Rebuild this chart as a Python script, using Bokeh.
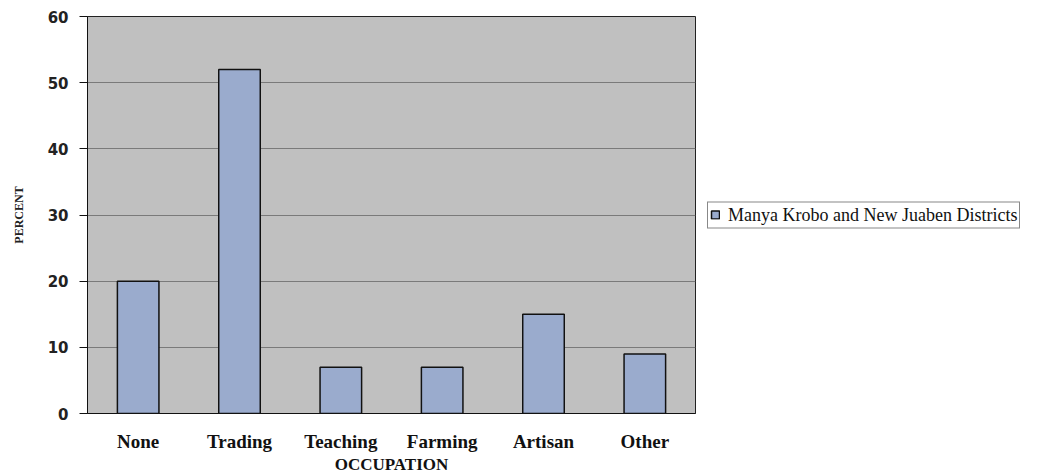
from bokeh.plotting import figure
from bokeh.models import ColumnDataSource, Legend, LegendItem, FixedTicker
from bokeh.embed import file_html
from bokeh.resources import INLINE

# Occupation shares (percent) for Manya Krobo and New Juaben districts
occupations = ["None", "Trading", "Teaching", "Farming", "Artisan", "Other"]
percent = [20, 52, 7, 7, 15, 9]
series_name = "Manya Krobo and New Juaben Districts"
y_ticks = [0, 10, 20, 30, 40, 50, 60]

source = ColumnDataSource(data=dict(occupation=occupations, percent=percent))

p = figure(
    x_range=occupations,
    y_range=(0, 60),
    frame_width=608,
    frame_height=397,
    output_backend="svg",
    toolbar_location=None,
    min_border_left=87,
    min_border_right=0,
    min_border_top=16,
    min_border_bottom=58,
)

p.background_fill_color = "#c0c0c0"
p.border_fill_color = "white"
p.outline_line_color = "#222222"
p.outline_line_width = 1

bars = p.vbar(
    x="occupation", top="percent", width=0.41, source=source,
    fill_color="#9aabcd", line_color="#111111", line_width=1.5,
)

p.x_range.range_padding = 0

# gridlines
p.xgrid.grid_line_color = None
p.ygrid.grid_line_color = "#7a7a7a"
p.ygrid.grid_line_width = 1

# y axis
p.yaxis.ticker = FixedTicker(ticks=y_ticks)
p.yaxis.axis_line_color = "#111111"
p.yaxis.major_tick_line_color = "#111111"
p.yaxis.major_tick_out = 8
p.yaxis.major_tick_in = 0
p.yaxis.minor_tick_line_color = None
p.yaxis.major_label_text_font = "DejaVu Sans"
p.yaxis.major_label_text_font_style = "bold"
p.yaxis.major_label_text_font_size = "15px"
p.yaxis.major_label_text_color = "#222222"
p.yaxis.major_label_standoff = 11
p.yaxis.axis_label = "PERCENT"
p.yaxis.axis_label_text_font = "Liberation Serif"
p.yaxis.axis_label_text_font_style = "bold"
p.yaxis.axis_label_text_font_size = "12px"
p.yaxis.axis_label_text_color = "#222222"
p.yaxis.axis_label_standoff = 19

# x axis
p.xaxis.axis_line_color = "#111111"
p.xaxis.major_tick_line_color = None
p.xaxis.minor_tick_line_color = None
p.xaxis.major_label_text_font = "Liberation Serif"
p.xaxis.major_label_text_font_style = "bold"
p.xaxis.major_label_text_font_size = "19px"
p.xaxis.major_label_text_color = "#111111"
p.xaxis.major_label_standoff = 11
p.xaxis.axis_label = "OCCUPATION"
p.xaxis.axis_label_text_font = "Liberation Serif"
p.xaxis.axis_label_text_font_style = "bold"
p.xaxis.axis_label_text_font_size = "17px"
p.xaxis.axis_label_text_color = "#111111"
p.xaxis.axis_label_standoff = 0

legend = Legend(
    items=[LegendItem(label=series_name, renderers=[bars])],
    location="center_left",
    border_line_color="#111111",
    border_line_width=1,
    background_fill_color="white",
    background_fill_alpha=1,
    label_text_font="Liberation Serif",
    label_text_font_size="18px",
    label_text_color="#111111",
    label_height=14,
    label_standoff=8,
    glyph_width=10,
    glyph_height=10,
    padding=2,
    margin=12,
    spacing=0,
)
p.add_layout(legend, "right")

open("out.html", "w").write(file_html(p, INLINE))
